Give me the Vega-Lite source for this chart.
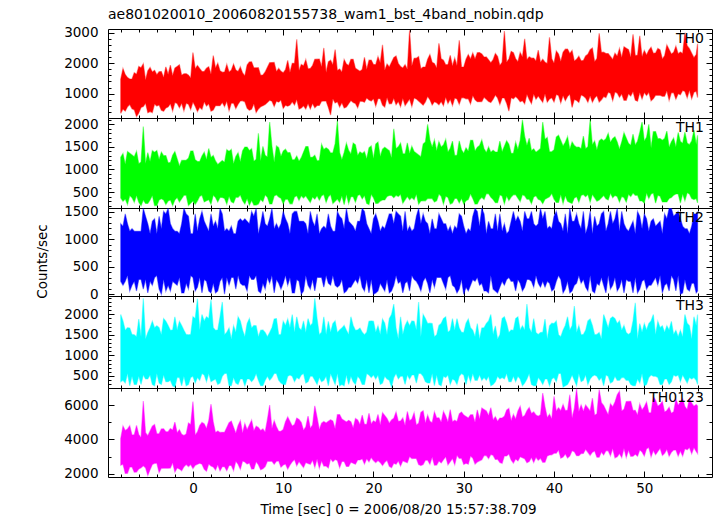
{
"$schema": "https://vega.github.io/schema/vega-lite/v6.json",
"autosize": "pad",
"padding": {"left": 34, "top": 7, "right": 6, "bottom": 0},
"background": "white",
"bounds": "flush",
"config": {
  "view": {"stroke": "#000", "strokeWidth": 1},
  "concat": {"spacing": 0},
  "area": {"strokeWidth": 1.2, "strokeOpacity": 0.45},
  "axis": {"domain": false, "grid": false, "tickColor": "#000", "tickWidth": 1, "labelFont": "DejaVu Sans", "labelFontSize": 13.5, "labelColor": "#000", "titleFont": "DejaVu Sans", "titleFontSize": 13.5, "titleFontWeight": "normal", "titleColor": "#000", "labelOverlap": false, "labelFlush": false, "format": "d"}
},
"datasets": {"lc": [
{"t":-8,"lo0":355,"hi0":1470,"lo1":370,"hi1":1270,"lo2":235,"hi2":1280,"lo3":362,"hi3":1995,"lo4":2490,"hi4":4050},
{"t":-7.5,"lo0":428,"hi0":1626,"lo1":346,"hi1":1114,"lo2":235,"hi2":1460,"lo3":329,"hi3":1610,"lo4":2017,"hi4":4512},
{"t":-7,"lo0":642,"hi0":1482,"lo1":421,"hi1":1358,"lo2":60,"hi2":1145,"lo3":263,"hi3":1665,"lo4":2384,"hi4":4794},
{"t":-6.5,"lo0":470,"hi0":1688,"lo1":271,"hi1":1281,"lo2":235,"hi2":1145,"lo3":296,"hi3":1500,"lo4":2091,"hi4":4266},
{"t":-6,"lo0":369,"hi0":1894,"lo1":272,"hi1":1125,"lo2":270,"hi2":1145,"lo3":494,"hi3":1885,"lo4":2278,"hi4":4278},
{"t":-5.5,"lo0":582,"hi0":1980,"lo1":322,"hi1":1950,"lo2":95,"hi2":1560,"lo3":527,"hi3":2390,"lo4":2465,"hi4":6230},
{"t":-5,"lo0":376,"hi0":1756,"lo1":248,"hi1":1373,"lo2":25,"hi2":1280,"lo3":428,"hi3":1555,"lo4":1900,"hi4":4212},
{"t":-4.5,"lo0":380,"hi0":1712,"lo1":424,"hi1":1417,"lo2":165,"hi2":1325,"lo3":296,"hi3":1830,"lo4":2539,"hi4":4764},
{"t":-4,"lo0":593,"hi0":1618,"lo1":199,"hi1":1420,"lo2":340,"hi2":1100,"lo3":560,"hi3":1720,"lo4":2606,"hi4":4326},
{"t":-3.5,"lo0":456,"hi0":1724,"lo1":350,"hi1":1384,"lo2":0,"hi2":1190,"lo3":296,"hi3":1500,"lo4":2313,"hi4":4608},
{"t":-3,"lo0":530,"hi0":1880,"lo1":225,"hi1":1308,"lo2":60,"hi2":1460,"lo3":362,"hi3":1830,"lo4":2320,"hi4":4440},
{"t":-2.5,"lo0":674,"hi0":1936,"lo1":326,"hi1":1152,"lo2":60,"hi2":1280,"lo3":395,"hi3":1610,"lo4":2327,"hi4":4632},
{"t":-2,"lo0":712,"hi0":1842,"lo1":326,"hi1":1396,"lo2":200,"hi2":1145,"lo3":230,"hi3":1940,"lo4":2094,"hi4":5004},
{"t":-1.5,"lo0":541,"hi0":1948,"lo1":277,"hi1":1079,"lo2":305,"hi2":1100,"lo3":461,"hi3":1830,"lo4":2281,"hi4":4566},
{"t":-1,"lo0":439,"hi0":1654,"lo1":427,"hi1":1203,"lo2":25,"hi2":1560,"lo3":494,"hi3":1610,"lo4":2408,"hi4":4218},
{"t":-0.5,"lo0":652,"hi0":1610,"lo1":202,"hi1":1247,"lo2":95,"hi2":1415,"lo3":296,"hi3":1500,"lo4":2415,"hi4":4950},
{"t":0,"lo0":726,"hi0":2350,"lo1":303,"hi1":1411,"lo2":305,"hi2":1100,"lo3":494,"hi3":1940,"lo4":2302,"hi4":6200},
{"t":0.5,"lo0":415,"hi0":1922,"lo1":304,"hi1":1175,"lo2":130,"hi2":1145,"lo3":461,"hi3":2380,"lo4":2549,"hi4":4434},
{"t":1,"lo0":488,"hi0":1728,"lo1":429,"hi1":1298,"lo2":25,"hi2":1505,"lo3":560,"hi3":1995,"lo4":2556,"hi4":4986},
{"t":1.5,"lo0":597,"hi0":1834,"lo1":305,"hi1":1222,"lo2":235,"hi2":1235,"lo3":362,"hi3":1940,"lo4":2143,"hi4":4638},
{"t":2,"lo0":425,"hi0":1640,"lo1":230,"hi1":1266,"lo2":25,"hi2":1460,"lo3":362,"hi3":2350,"lo4":2450,"hi4":6050},
{"t":2.5,"lo0":604,"hi0":1846,"lo1":381,"hi1":1190,"lo2":25,"hi2":1325,"lo3":428,"hi3":1610,"lo4":2217,"hi4":4392},
{"t":3,"lo0":607,"hi0":1752,"lo1":381,"hi1":1154,"lo2":235,"hi2":1560,"lo3":329,"hi3":1940,"lo4":2164,"hi4":4404},
{"t":3.5,"lo0":576,"hi0":1708,"lo1":357,"hi1":1157,"lo2":0,"hi2":1145,"lo3":560,"hi3":1500,"lo4":2411,"hi4":4416},
{"t":4,"lo0":439,"hi0":1714,"lo1":407,"hi1":1401,"lo2":165,"hi2":1145,"lo3":263,"hi3":1665,"lo4":2478,"hi4":4968},
{"t":4.5,"lo0":688,"hi0":1970,"lo1":258,"hi1":1125,"lo2":305,"hi2":1100,"lo3":461,"hi3":1720,"lo4":2185,"hi4":4710},
{"t":5,"lo0":656,"hi0":1726,"lo1":383,"hi1":1369,"lo2":340,"hi2":1325,"lo3":296,"hi3":1940,"lo4":2552,"hi4":4812},
{"t":5.5,"lo0":765,"hi0":1682,"lo1":309,"hi1":1413,"lo2":165,"hi2":1325,"lo3":428,"hi3":1610,"lo4":2739,"hi4":4374},
{"t":6,"lo0":523,"hi0":1938,"lo1":359,"hi1":1496,"lo2":60,"hi2":1325,"lo3":428,"hi3":1775,"lo4":2566,"hi4":4566},
{"t":6.5,"lo0":492,"hi0":2044,"lo1":310,"hi1":1460,"lo2":270,"hi2":1505,"lo3":362,"hi3":1665,"lo4":2273,"hi4":5118},
{"t":7,"lo0":380,"hi0":1850,"lo1":210,"hi1":1224,"lo2":340,"hi2":1560,"lo3":560,"hi3":1720,"lo4":2700,"hi4":4770},
{"t":7.5,"lo0":569,"hi0":1606,"lo1":336,"hi1":1188,"lo2":25,"hi2":1280,"lo3":263,"hi3":1610,"lo4":2227,"hi4":4512},
{"t":8,"lo0":642,"hi0":1712,"lo1":436,"hi1":1312,"lo2":95,"hi2":1280,"lo3":395,"hi3":1555,"lo4":2414,"hi4":4434},
{"t":8.5,"lo0":786,"hi0":2018,"lo1":237,"hi1":2050,"lo2":200,"hi2":1370,"lo3":395,"hi3":1555,"lo4":2721,"hi4":6000},
{"t":9,"lo0":579,"hi0":2024,"lo1":412,"hi1":1159,"lo2":25,"hi2":1190,"lo3":560,"hi3":1885,"lo4":2548,"hi4":5088},
{"t":9.5,"lo0":723,"hi0":1830,"lo1":388,"hi1":1483,"lo2":200,"hi2":1190,"lo3":395,"hi3":1500,"lo4":2735,"hi4":4470},
{"t":10,"lo0":516,"hi0":1686,"lo1":238,"hi1":1407,"lo2":200,"hi2":1505,"lo3":296,"hi3":1830,"lo4":2502,"hi4":4572},
{"t":10.5,"lo0":590,"hi0":2092,"lo1":339,"hi1":1371,"lo2":165,"hi2":1280,"lo3":494,"hi3":1885,"lo4":2269,"hi4":5304},
{"t":11,"lo0":733,"hi0":1998,"lo1":239,"hi1":1214,"lo2":25,"hi2":1460,"lo3":494,"hi3":1995,"lo4":2696,"hi4":4776},
{"t":11.5,"lo0":807,"hi0":2780,"lo1":415,"hi1":1298,"lo2":270,"hi2":1505,"lo3":461,"hi3":1940,"lo4":2463,"hi4":5238},
{"t":12,"lo0":530,"hi0":1960,"lo1":415,"hi1":1262,"lo2":0,"hi2":1325,"lo3":527,"hi3":1610,"lo4":2530,"hi4":4980},
{"t":12.5,"lo0":499,"hi0":2116,"lo1":416,"hi1":1506,"lo2":340,"hi2":1280,"lo3":329,"hi3":1555,"lo4":2657,"hi4":4722},
{"t":13,"lo0":502,"hi0":1822,"lo1":266,"hi1":1270,"lo2":95,"hi2":1505,"lo3":494,"hi3":1720,"lo4":2544,"hi4":4644},
{"t":13.5,"lo0":541,"hi0":2128,"lo1":342,"hi1":1313,"lo2":60,"hi2":1235,"lo3":395,"hi3":2390,"lo4":2371,"hi4":5950},
{"t":14,"lo0":614,"hi0":2134,"lo1":317,"hi1":1197,"lo2":305,"hi2":1100,"lo3":461,"hi3":1500,"lo4":2318,"hi4":4578},
{"t":14.5,"lo0":758,"hi0":2500,"lo1":443,"hi1":1441,"lo2":130,"hi2":1235,"lo3":395,"hi3":1940,"lo4":2445,"hi4":5040},
{"t":15,"lo0":551,"hi0":2046,"lo1":393,"hi1":1445,"lo2":200,"hi2":1460,"lo3":263,"hi3":1830,"lo4":2332,"hi4":5052},
{"t":15.5,"lo0":835,"hi0":1952,"lo1":244,"hi1":1369,"lo2":340,"hi2":1145,"lo3":428,"hi3":1775,"lo4":2699,"hi4":5064},
{"t":16,"lo0":733,"hi0":1758,"lo1":344,"hi1":2080,"lo2":130,"hi2":1505,"lo3":560,"hi3":1555,"lo4":2766,"hi4":5436},
{"t":16.5,"lo0":701,"hi0":1714,"lo1":420,"hi1":1216,"lo2":270,"hi2":1370,"lo3":296,"hi3":1665,"lo4":2713,"hi4":5178},
{"t":17,"lo0":565,"hi0":1970,"lo1":445,"hi1":1580,"lo2":60,"hi2":1560,"lo3":527,"hi3":1610,"lo4":2420,"hi4":5010},
{"t":17.5,"lo0":779,"hi0":2126,"lo1":396,"hi1":1344,"lo2":130,"hi2":1280,"lo3":494,"hi3":1940,"lo4":2667,"hi4":5022},
{"t":18,"lo0":677,"hi0":1832,"lo1":271,"hi1":1548,"lo2":270,"hi2":1145,"lo3":296,"hi3":1610,"lo4":2554,"hi4":5214},
{"t":18.5,"lo0":751,"hi0":1738,"lo1":447,"hi1":1391,"lo2":340,"hi2":1325,"lo3":428,"hi3":1665,"lo4":2801,"hi4":4866},
{"t":19,"lo0":719,"hi0":2194,"lo1":422,"hi1":1395,"lo2":60,"hi2":1505,"lo3":296,"hi3":1500,"lo4":2568,"hi4":4878},
{"t":19.5,"lo0":793,"hi0":2100,"lo1":223,"hi1":1479,"lo2":25,"hi2":1190,"lo3":527,"hi3":1830,"lo4":2695,"hi4":5520},
{"t":20,"lo0":831,"hi0":1956,"lo1":373,"hi1":1243,"lo2":0,"hi2":1370,"lo3":527,"hi3":1830,"lo4":2762,"hi4":5082},
{"t":20.5,"lo0":835,"hi0":2212,"lo1":249,"hi1":1607,"lo2":60,"hi2":1325,"lo3":527,"hi3":1720,"lo4":2769,"hi4":5454},
{"t":21,"lo0":628,"hi0":2600,"lo1":324,"hi1":1450,"lo2":130,"hi2":1235,"lo3":329,"hi3":1885,"lo4":2476,"hi4":5556},
{"t":21.5,"lo0":877,"hi0":1974,"lo1":400,"hi1":1454,"lo2":270,"hi2":1325,"lo3":428,"hi3":1500,"lo4":2783,"hi4":5208},
{"t":22,"lo0":670,"hi0":2030,"lo1":425,"hi1":1258,"lo2":60,"hi2":1460,"lo3":230,"hi3":1995,"lo4":2350,"hi4":5130},
{"t":22.5,"lo0":638,"hi0":2236,"lo1":426,"hi1":1462,"lo2":340,"hi2":1505,"lo3":560,"hi3":1665,"lo4":2557,"hi4":5592},
{"t":23,"lo0":572,"hi0":1892,"lo1":451,"hi1":1586,"lo2":235,"hi2":1415,"lo3":494,"hi3":1940,"lo4":2444,"hi4":5064},
{"t":23.5,"lo0":611,"hi0":1948,"lo1":327,"hi1":1349,"lo2":200,"hi2":1505,"lo3":296,"hi3":1720,"lo4":2691,"hi4":4806},
{"t":24,"lo0":824,"hi0":3080,"lo1":327,"hi1":1353,"lo2":60,"hi2":1235,"lo3":428,"hi3":1720,"lo4":2998,"hi4":5088},
{"t":24.5,"lo0":862,"hi0":2160,"lo1":328,"hi1":1397,"lo2":270,"hi2":1190,"lo3":527,"hi3":1830,"lo4":2885,"hi4":5550},
{"t":25,"lo0":761,"hi0":2216,"lo1":228,"hi1":1321,"lo2":165,"hi2":1560,"lo3":560,"hi3":2300,"lo4":2532,"hi4":4932},
{"t":25.5,"lo0":625,"hi0":1872,"lo1":304,"hi1":1565,"lo2":235,"hi2":1460,"lo3":494,"hi3":1995,"lo4":2539,"hi4":5664},
{"t":26,"lo0":908,"hi0":2128,"lo1":354,"hi1":2000,"lo2":200,"hi2":1280,"lo3":329,"hi3":1775,"lo4":2786,"hi4":5406},
{"t":26.5,"lo0":632,"hi0":2034,"lo1":355,"hi1":1492,"lo2":270,"hi2":1370,"lo3":560,"hi3":1775,"lo4":2973,"hi4":4968},
{"t":27,"lo0":705,"hi0":1840,"lo1":305,"hi1":1416,"lo2":305,"hi2":1190,"lo3":527,"hi3":1500,"lo4":2500,"hi4":5250},
{"t":27.5,"lo0":744,"hi0":2146,"lo1":406,"hi1":1500,"lo2":305,"hi2":1370,"lo3":263,"hi3":1775,"lo4":2627,"hi4":4992},
{"t":28,"lo0":887,"hi0":1952,"lo1":406,"hi1":1664,"lo2":95,"hi2":1280,"lo3":461,"hi3":1940,"lo4":2994,"hi4":5364},
{"t":28.5,"lo0":821,"hi0":2258,"lo1":232,"hi1":1467,"lo2":340,"hi2":1235,"lo3":296,"hi3":1610,"lo4":2701,"hi4":5736},
{"t":29,"lo0":859,"hi0":2164,"lo1":357,"hi1":1311,"lo2":130,"hi2":1235,"lo3":395,"hi3":1610,"lo4":2528,"hi4":5118},
{"t":29.5,"lo0":653,"hi0":2750,"lo1":258,"hi1":1635,"lo2":95,"hi2":1460,"lo3":494,"hi3":1665,"lo4":2895,"hi4":5490},
{"t":30,"lo0":866,"hi0":1876,"lo1":233,"hi1":1359,"lo2":0,"hi2":1235,"lo3":527,"hi3":1555,"lo4":2542,"hi4":5412},
{"t":30.5,"lo0":835,"hi0":2282,"lo1":334,"hi1":1403,"lo2":60,"hi2":1190,"lo3":527,"hi3":1885,"lo4":2549,"hi4":5244},
{"t":31,"lo0":943,"hi0":2338,"lo1":359,"hi1":1646,"lo2":270,"hi2":1415,"lo3":560,"hi3":1610,"lo4":2916,"hi4":5436},
{"t":31.5,"lo0":737,"hi0":2344,"lo1":235,"hi1":1490,"lo2":305,"hi2":1505,"lo3":395,"hi3":1775,"lo4":2683,"hi4":5718},
{"t":32,"lo0":740,"hi0":2300,"lo1":385,"hi1":1654,"lo2":200,"hi2":1560,"lo3":395,"hi3":1665,"lo4":2810,"hi4":5820},
{"t":32.5,"lo0":814,"hi0":2206,"lo1":461,"hi1":1378,"lo2":60,"hi2":1100,"lo3":395,"hi3":1775,"lo4":3057,"hi4":5652},
{"t":33,"lo0":712,"hi0":2012,"lo1":386,"hi1":1382,"lo2":340,"hi2":1190,"lo3":263,"hi3":1995,"lo4":3124,"hi4":5844},
{"t":33.5,"lo0":961,"hi0":2318,"lo1":262,"hi1":1385,"lo2":60,"hi2":1460,"lo3":362,"hi3":1720,"lo4":2831,"hi4":5316},
{"t":34,"lo0":649,"hi0":1924,"lo1":437,"hi1":1629,"lo2":130,"hi2":1460,"lo3":428,"hi3":1500,"lo4":2658,"hi4":5238},
{"t":34.5,"lo0":862,"hi0":3050,"lo1":237,"hi1":1513,"lo2":165,"hi2":1280,"lo3":428,"hi3":1940,"lo4":3025,"hi4":5340},
{"t":35,"lo0":430,"hi0":2136,"lo1":313,"hi1":1557,"lo2":305,"hi2":1145,"lo3":362,"hi3":1555,"lo4":3152,"hi4":5802},
{"t":35.5,"lo0":835,"hi0":2342,"lo1":439,"hi1":1361,"lo2":235,"hi2":1505,"lo3":494,"hi3":1610,"lo4":2619,"hi4":5454},
{"t":36,"lo0":838,"hi0":2048,"lo1":364,"hi1":1444,"lo2":270,"hi2":1415,"lo3":494,"hi3":1940,"lo4":2746,"hi4":5646},
{"t":36.5,"lo0":772,"hi0":2204,"lo1":440,"hi1":2100,"lo2":60,"hi2":1145,"lo3":263,"hi3":1720,"lo4":2933,"hi4":5298},
{"t":37,"lo0":985,"hi0":2110,"lo1":340,"hi1":1532,"lo2":270,"hi2":1370,"lo3":428,"hi3":2250,"lo4":2640,"hi4":5670},
{"t":37.5,"lo0":674,"hi0":2166,"lo1":241,"hi1":1416,"lo2":235,"hi2":1505,"lo3":296,"hi3":1555,"lo4":2947,"hi4":5502},
{"t":38,"lo0":817,"hi0":2072,"lo1":416,"hi1":1380,"lo2":340,"hi2":1235,"lo3":263,"hi3":1555,"lo4":2954,"hi4":5424},
{"t":38.5,"lo0":821,"hi0":2028,"lo1":317,"hi1":1463,"lo2":130,"hi2":1560,"lo3":395,"hi3":1555,"lo4":2901,"hi4":5436},
{"t":39,"lo0":999,"hi0":2034,"lo1":342,"hi1":1667,"lo2":130,"hi2":1505,"lo3":428,"hi3":1885,"lo4":2668,"hi4":5898},
{"t":39.5,"lo0":828,"hi0":2850,"lo1":393,"hi1":1391,"lo2":200,"hi2":1235,"lo3":263,"hi3":1720,"lo4":3095,"hi4":5460},
{"t":40,"lo0":726,"hi0":1996,"lo1":343,"hi1":1435,"lo2":95,"hi2":1415,"lo3":461,"hi3":1775,"lo4":3192,"hi4":6500},
{"t":40.5,"lo0":940,"hi0":2302,"lo1":269,"hi1":1759,"lo2":340,"hi2":1325,"lo3":560,"hi3":1500,"lo4":3379,"hi4":5844},
{"t":41,"lo0":943,"hi0":2358,"lo1":244,"hi1":1522,"lo2":25,"hi2":1145,"lo3":230,"hi3":1610,"lo4":2966,"hi4":6036},
{"t":41.5,"lo0":912,"hi0":2464,"lo1":295,"hi1":1726,"lo2":235,"hi2":1100,"lo3":296,"hi3":1940,"lo4":2913,"hi4":5688},
{"t":42,"lo0":550,"hi0":2420,"lo1":245,"hi1":1610,"lo2":60,"hi2":1325,"lo3":527,"hi3":1720,"lo4":3340,"hi4":5250},
{"t":42.5,"lo0":779,"hi0":2126,"lo1":396,"hi1":1494,"lo2":200,"hi2":1460,"lo3":263,"hi3":1555,"lo4":3047,"hi4":6950},
{"t":43,"lo0":957,"hi0":2082,"lo1":421,"hi1":1458,"lo2":200,"hi2":1190,"lo3":362,"hi3":1500,"lo4":3174,"hi4":5994},
{"t":43.5,"lo0":856,"hi0":2238,"lo1":397,"hi1":1461,"lo2":130,"hi2":1100,"lo3":527,"hi3":1610,"lo4":3421,"hi4":6006},
{"t":44,"lo0":929,"hi0":2444,"lo1":272,"hi1":2100,"lo2":340,"hi2":1505,"lo3":428,"hi3":1885,"lo4":3068,"hi4":5658},
{"t":44.5,"lo0":862,"hi0":2050,"lo1":372,"hi1":1629,"lo2":25,"hi2":1415,"lo3":527,"hi3":1500,"lo4":3315,"hi4":5400},
{"t":45,"lo0":726,"hi0":2980,"lo1":323,"hi1":1633,"lo2":165,"hi2":1280,"lo3":395,"hi3":1555,"lo4":2962,"hi4":6900},
{"t":45.5,"lo0":905,"hi0":2362,"lo1":424,"hi1":1637,"lo2":165,"hi2":1505,"lo3":263,"hi3":1995,"lo4":3089,"hi4":5964},
{"t":46,"lo0":1048,"hi0":2318,"lo1":324,"hi1":1800,"lo2":340,"hi2":1280,"lo3":494,"hi3":1665,"lo4":3336,"hi4":5436},
{"t":46.5,"lo0":772,"hi0":2124,"lo1":375,"hi1":1684,"lo2":165,"hi2":1280,"lo3":362,"hi3":1940,"lo4":3463,"hi4":5898},
{"t":47,"lo0":1020,"hi0":2230,"lo1":400,"hi1":1608,"lo2":60,"hi2":1560,"lo3":395,"hi3":1775,"lo4":2990,"hi4":6600},
{"t":47.5,"lo0":989,"hi0":2186,"lo1":401,"hi1":1612,"lo2":270,"hi2":1505,"lo3":461,"hi3":1610,"lo4":2937,"hi4":5652},
{"t":48,"lo0":782,"hi0":2492,"lo1":276,"hi1":1696,"lo2":270,"hi2":1190,"lo3":395,"hi3":1555,"lo4":2944,"hi4":6204},
{"t":48.5,"lo0":926,"hi0":2198,"lo1":402,"hi1":1539,"lo2":235,"hi2":1235,"lo3":296,"hi3":1555,"lo4":3011,"hi4":6216},
{"t":49,"lo0":789,"hi0":2254,"lo1":427,"hi1":1543,"lo2":305,"hi2":1100,"lo3":263,"hi3":2280,"lo4":3138,"hi4":5688},
{"t":49.5,"lo0":1038,"hi0":2900,"lo1":303,"hi1":1827,"lo2":95,"hi2":1415,"lo3":329,"hi3":1775,"lo4":3385,"hi4":6060},
{"t":50,"lo0":1041,"hi0":2416,"lo1":253,"hi1":1631,"lo2":270,"hi2":1460,"lo3":263,"hi3":1775,"lo4":3032,"hi4":5892},
{"t":50.5,"lo0":1045,"hi0":2422,"lo1":354,"hi1":2000,"lo2":165,"hi2":1145,"lo3":461,"hi3":1775,"lo4":3519,"hi4":5544},
{"t":51,"lo0":838,"hi0":2328,"lo1":479,"hi1":1838,"lo2":235,"hi2":1370,"lo3":494,"hi3":1995,"lo4":3346,"hi4":6500},
{"t":51.5,"lo0":947,"hi0":2484,"lo1":430,"hi1":1682,"lo2":165,"hi2":1280,"lo3":461,"hi3":1830,"lo4":3293,"hi4":5928},
{"t":52,"lo0":915,"hi0":2140,"lo1":280,"hi1":1646,"lo2":25,"hi2":1100,"lo3":296,"hi3":1720,"lo4":3060,"hi4":6210},
{"t":52.5,"lo0":1094,"hi0":2596,"lo1":281,"hi1":1850,"lo2":200,"hi2":1370,"lo3":428,"hi3":1720,"lo4":3427,"hi4":5682},
{"t":53,"lo0":1027,"hi0":2302,"lo1":381,"hi1":1614,"lo2":340,"hi2":1560,"lo3":362,"hi3":1830,"lo4":3254,"hi4":5514},
{"t":53.5,"lo0":821,"hi0":2558,"lo1":457,"hi1":1497,"lo2":60,"hi2":1460,"lo3":494,"hi3":1610,"lo4":3381,"hi4":6336},
{"t":54,"lo0":964,"hi0":2364,"lo1":257,"hi1":1621,"lo2":0,"hi2":1370,"lo3":362,"hi3":1610,"lo4":3328,"hi4":6168},
{"t":54.5,"lo0":1073,"hi0":3000,"lo1":308,"hi1":1825,"lo2":270,"hi2":1190,"lo3":428,"hi3":1995,"lo4":3455,"hi4":5910},
{"t":55,"lo0":1111,"hi0":2476,"lo1":458,"hi1":1549,"lo2":60,"hi2":1100,"lo3":461,"hi3":1720,"lo4":3522,"hi4":6372},
{"t":55.5,"lo0":1045,"hi0":2182,"lo1":334,"hi1":1873,"lo2":200,"hi2":1460,"lo3":461,"hi3":1940,"lo4":3529,"hi4":5934},
{"t":55.9,"lo0":873,"hi0":2638,"lo1":259,"hi1":1756,"lo2":60,"hi2":1505,"lo3":296,"hi3":1995,"lo4":3176,"hi4":5946},
{"t":-7.75,"lo0":497,"hi0":1823,"lo1":295,"hi1":1352,"lo2":165,"hi2":1235,"lo3":395,"hi3":1840,"lo4":2554,"hi4":4776},
{"t":-7.25,"lo0":571,"hi0":1529,"lo1":221,"hi1":1396,"lo2":340,"hi2":1280,"lo3":560,"hi3":1675,"lo4":2021,"hi4":4608},
{"t":-6.75,"lo0":504,"hi0":1485,"lo1":371,"hi1":1320,"lo2":165,"hi2":1190,"lo3":494,"hi3":1510,"lo4":2388,"hi4":4260},
{"t":-6.25,"lo0":250,"hi0":1641,"lo1":422,"hi1":1403,"lo2":60,"hi2":1145,"lo3":296,"hi3":1455,"lo4":2095,"hi4":4812},
{"t":-5.75,"lo0":546,"hi0":1847,"lo1":197,"hi1":1167,"lo2":270,"hi2":1145,"lo3":296,"hi3":1455,"lo4":2342,"hi4":4104},
{"t":-5.25,"lo0":690,"hi0":1453,"lo1":248,"hi1":1131,"lo2":270,"hi2":1415,"lo3":428,"hi3":1400,"lo4":2349,"hi4":4386},
{"t":-4.75,"lo0":413,"hi0":1859,"lo1":323,"hi1":1175,"lo2":235,"hi2":1100,"lo3":527,"hi3":1675,"lo4":2236,"hi4":4488},
{"t":-4.25,"lo0":662,"hi0":1765,"lo1":199,"hi1":1379,"lo2":305,"hi2":1370,"lo3":263,"hi3":1675,"lo4":2603,"hi4":4860},
{"t":-3.75,"lo0":630,"hi0":1721,"lo1":324,"hi1":1222,"lo2":95,"hi2":1415,"lo3":329,"hi3":1675,"lo4":2070,"hi4":4332},
{"t":-3.25,"lo0":424,"hi0":1527,"lo1":325,"hi1":1306,"lo2":270,"hi2":1505,"lo3":527,"hi3":1895,"lo4":2317,"hi4":4614},
{"t":-2.75,"lo0":567,"hi0":1633,"lo1":300,"hi1":1150,"lo2":165,"hi2":1560,"lo3":362,"hi3":1730,"lo4":2324,"hi4":4446},
{"t":-2.25,"lo0":431,"hi0":1589,"lo1":201,"hi1":1314,"lo2":235,"hi2":1190,"lo3":263,"hi3":1620,"lo4":2631,"hi4":4548},
{"t":-1.75,"lo0":679,"hi0":1895,"lo1":376,"hi1":1238,"lo2":165,"hi2":1145,"lo3":461,"hi3":1620,"lo4":2338,"hi4":4380},
{"t":-1.25,"lo0":683,"hi0":1601,"lo1":352,"hi1":1201,"lo2":25,"hi2":1280,"lo3":263,"hi3":1730,"lo4":2165,"hi4":4302},
{"t":-0.75,"lo0":686,"hi0":1657,"lo1":427,"hi1":1205,"lo2":200,"hi2":1460,"lo3":263,"hi3":1510,"lo4":2532,"hi4":4314},
{"t":-0.25,"lo0":480,"hi0":1513,"lo1":253,"hi1":1409,"lo2":340,"hi2":1100,"lo3":461,"hi3":1510,"lo4":2539,"hi4":4866},
{"t":0.25,"lo0":588,"hi0":1819,"lo1":228,"hi1":1213,"lo2":60,"hi2":1460,"lo3":329,"hi3":1895,"lo4":2486,"hi4":4248},
{"t":0.75,"lo0":557,"hi0":1825,"lo1":404,"hi1":1177,"lo2":305,"hi2":1370,"lo3":395,"hi3":1620,"lo4":2613,"hi4":4800},
{"t":1.25,"lo0":735,"hi0":1731,"lo1":279,"hi1":1380,"lo2":270,"hi2":1325,"lo3":527,"hi3":1840,"lo4":2260,"hi4":4902},
{"t":1.75,"lo0":669,"hi0":1887,"lo1":330,"hi1":1464,"lo2":60,"hi2":1145,"lo3":560,"hi3":1895,"lo4":2567,"hi4":5094},
{"t":2.25,"lo0":462,"hi0":2250,"lo1":430,"hi1":1308,"lo2":200,"hi2":1235,"lo3":395,"hi3":1675,"lo4":2394,"hi4":5016},
{"t":2.75,"lo0":606,"hi0":1999,"lo1":281,"hi1":1112,"lo2":60,"hi2":1190,"lo3":296,"hi3":1620,"lo4":2521,"hi4":4488},
{"t":3.25,"lo0":714,"hi0":1705,"lo1":381,"hi1":1196,"lo2":305,"hi2":1460,"lo3":494,"hi3":2300,"lo4":2408,"hi4":4410},
{"t":3.75,"lo0":753,"hi0":1961,"lo1":232,"hi1":1439,"lo2":305,"hi2":1190,"lo3":560,"hi3":1565,"lo4":2175,"hi4":4692},
{"t":4.25,"lo0":686,"hi0":1767,"lo1":282,"hi1":1443,"lo2":305,"hi2":1235,"lo3":263,"hi3":1400,"lo4":2482,"hi4":5064},
{"t":4.75,"lo0":515,"hi0":1773,"lo1":383,"hi1":1287,"lo2":95,"hi2":1100,"lo3":329,"hi3":1565,"lo4":2729,"hi4":4356},
{"t":5.25,"lo0":763,"hi0":1879,"lo1":433,"hi1":1171,"lo2":200,"hi2":1370,"lo3":428,"hi3":1840,"lo4":2256,"hi4":5088},
{"t":5.75,"lo0":732,"hi0":1585,"lo1":234,"hi1":1495,"lo2":165,"hi2":1370,"lo3":263,"hi3":1455,"lo4":2683,"hi4":4920},
{"t":6.25,"lo0":455,"hi0":2041,"lo1":209,"hi1":1418,"lo2":340,"hi2":1280,"lo3":428,"hi3":1895,"lo4":2630,"hi4":4842},
{"t":6.75,"lo0":669,"hi0":1847,"lo1":210,"hi1":1182,"lo2":270,"hi2":1415,"lo3":428,"hi3":1730,"lo4":2277,"hi4":4494},
{"t":7.25,"lo0":497,"hi0":1853,"lo1":235,"hi1":1800,"lo2":60,"hi2":1100,"lo3":395,"hi3":1455,"lo4":2524,"hi4":4686},
{"t":7.75,"lo0":606,"hi0":1609,"lo1":286,"hi1":1510,"lo2":200,"hi2":1505,"lo3":263,"hi3":1620,"lo4":2291,"hi4":4608},
{"t":8.25,"lo0":714,"hi0":1865,"lo1":386,"hi1":1274,"lo2":305,"hi2":1235,"lo3":494,"hi3":1455,"lo4":2718,"hi4":5160},
{"t":8.75,"lo0":753,"hi0":2021,"lo1":237,"hi1":1517,"lo2":340,"hi2":1560,"lo3":461,"hi3":1675,"lo4":2725,"hi4":4632},
{"t":9.25,"lo0":756,"hi0":1727,"lo1":437,"hi1":1521,"lo2":270,"hi2":1280,"lo3":560,"hi3":1895,"lo4":2732,"hi4":4734},
{"t":9.75,"lo0":795,"hi0":1733,"lo1":363,"hi1":1285,"lo2":95,"hi2":1280,"lo3":329,"hi3":1510,"lo4":2379,"hi4":4476},
{"t":10.25,"lo0":623,"hi0":1789,"lo1":338,"hi1":1449,"lo2":340,"hi2":1370,"lo3":296,"hi3":1730,"lo4":2566,"hi4":5028},
{"t":10.75,"lo0":627,"hi0":1695,"lo1":239,"hi1":1373,"lo2":305,"hi2":1100,"lo3":527,"hi3":1675,"lo4":2513,"hi4":5040},
{"t":11.25,"lo0":630,"hi0":2001,"lo1":389,"hi1":1216,"lo2":25,"hi2":1505,"lo3":362,"hi3":1565,"lo4":2820,"hi4":4872},
{"t":11.75,"lo0":494,"hi0":1757,"lo1":315,"hi1":1180,"lo2":235,"hi2":1325,"lo3":428,"hi3":1675,"lo4":2707,"hi4":5154},
{"t":12.25,"lo0":602,"hi0":1913,"lo1":365,"hi1":1384,"lo2":60,"hi2":1325,"lo3":560,"hi3":1840,"lo4":2354,"hi4":4536},
{"t":12.75,"lo0":676,"hi0":1819,"lo1":341,"hi1":1508,"lo2":165,"hi2":1100,"lo3":362,"hi3":1895,"lo4":2601,"hi4":5358},
{"t":13.25,"lo0":679,"hi0":1925,"lo1":391,"hi1":1272,"lo2":270,"hi2":1325,"lo3":494,"hi3":1785,"lo4":2788,"hi4":4830},
{"t":13.75,"lo0":613,"hi0":2131,"lo1":417,"hi1":1195,"lo2":305,"hi2":1460,"lo3":296,"hi3":1895,"lo4":2855,"hi4":5292},
{"t":14.25,"lo0":756,"hi0":1887,"lo1":417,"hi1":1559,"lo2":305,"hi2":1190,"lo3":362,"hi3":1565,"lo4":2742,"hi4":4944},
{"t":14.75,"lo0":760,"hi0":1693,"lo1":268,"hi1":1483,"lo2":340,"hi2":1190,"lo3":494,"hi3":1510,"lo4":2449,"hi4":4956},
{"t":15.25,"lo0":300,"hi0":2099,"lo1":443,"hi1":1367,"lo2":165,"hi2":1235,"lo3":560,"hi3":1565,"lo4":2876,"hi4":5148},
{"t":15.75,"lo0":697,"hi0":2450,"lo1":294,"hi1":1571,"lo2":165,"hi2":1145,"lo3":296,"hi3":1840,"lo4":2823,"hi4":4620},
{"t":16.25,"lo0":560,"hi0":1811,"lo1":269,"hi1":1374,"lo2":165,"hi2":1415,"lo3":263,"hi3":1620,"lo4":2350,"hi4":5442},
{"t":16.75,"lo0":529,"hi0":2117,"lo1":220,"hi1":1378,"lo2":25,"hi2":1190,"lo3":263,"hi3":1730,"lo4":2717,"hi4":5094},
{"t":17.25,"lo0":672,"hi0":1923,"lo1":245,"hi1":1422,"lo2":130,"hi2":1325,"lo3":296,"hi3":1510,"lo4":2424,"hi4":5106},
{"t":17.75,"lo0":711,"hi0":2129,"lo1":396,"hi1":1586,"lo2":200,"hi2":1235,"lo3":362,"hi3":1730,"lo4":2611,"hi4":4668},
{"t":18.25,"lo0":539,"hi0":1785,"lo1":421,"hi1":1310,"lo2":200,"hi2":1325,"lo3":494,"hi3":1620,"lo4":2798,"hi4":5130},
{"t":18.75,"lo0":753,"hi0":1791,"lo1":347,"hi1":1353,"lo2":130,"hi2":1560,"lo3":296,"hi3":1565,"lo4":2865,"hi4":5412},
{"t":19.25,"lo0":861,"hi0":1797,"lo1":247,"hi1":1237,"lo2":270,"hi2":1280,"lo3":560,"hi3":1565,"lo4":2872,"hi4":4884},
{"t":19.75,"lo0":760,"hi0":2103,"lo1":448,"hi1":1521,"lo2":270,"hi2":1100,"lo3":461,"hi3":1840,"lo4":2939,"hi4":4896},
{"t":20.25,"lo0":588,"hi0":1959,"lo1":248,"hi1":1565,"lo2":25,"hi2":1460,"lo3":428,"hi3":1565,"lo4":2646,"hi4":4998},
{"t":20.75,"lo0":837,"hi0":2015,"lo1":299,"hi1":1289,"lo2":200,"hi2":1145,"lo3":296,"hi3":1510,"lo4":2653,"hi4":4830},
{"t":21.25,"lo0":560,"hi0":1771,"lo1":324,"hi1":1492,"lo2":60,"hi2":1190,"lo3":494,"hi3":1785,"lo4":2660,"hi4":5382},
{"t":21.75,"lo0":669,"hi0":1877,"lo1":425,"hi1":1416,"lo2":25,"hi2":1460,"lo3":395,"hi3":1895,"lo4":2427,"hi4":4944},
{"t":22.25,"lo0":847,"hi0":2183,"lo1":375,"hi1":1900,"lo2":165,"hi2":1280,"lo3":461,"hi3":2250,"lo4":2614,"hi4":5226},
{"t":22.75,"lo0":746,"hi0":1989,"lo1":401,"hi1":1504,"lo2":200,"hi2":1460,"lo3":428,"hi3":1400,"lo4":2741,"hi4":5058},
{"t":23.25,"lo0":854,"hi0":1845,"lo1":251,"hi1":1348,"lo2":25,"hi2":1145,"lo3":494,"hi3":1510,"lo4":2748,"hi4":5250},
{"t":23.75,"lo0":718,"hi0":1801,"lo1":402,"hi1":1591,"lo2":235,"hi2":1145,"lo3":527,"hi3":1840,"lo4":2635,"hi4":5622},
{"t":24.25,"lo0":581,"hi0":1907,"lo1":377,"hi1":1515,"lo2":340,"hi2":1145,"lo3":527,"hi3":1840,"lo4":2882,"hi4":5184},
{"t":24.75,"lo0":830,"hi0":2163,"lo1":453,"hi1":1359,"lo2":235,"hi2":1415,"lo3":329,"hi3":1620,"lo4":2889,"hi4":4836},
{"t":25.25,"lo0":693,"hi0":1819,"lo1":303,"hi1":1283,"lo2":60,"hi2":1280,"lo3":560,"hi3":1455,"lo4":2476,"hi4":5568},
{"t":25.75,"lo0":732,"hi0":1875,"lo1":304,"hi1":1607,"lo2":305,"hi2":1325,"lo3":362,"hi3":1895,"lo4":2783,"hi4":4950},
{"t":26.25,"lo0":805,"hi0":2281,"lo1":354,"hi1":1650,"lo2":25,"hi2":1100,"lo3":329,"hi3":1785,"lo4":2550,"hi4":5052},
{"t":26.75,"lo0":739,"hi0":1987,"lo1":280,"hi1":1654,"lo2":130,"hi2":1190,"lo3":263,"hi3":1455,"lo4":2497,"hi4":5604},
{"t":27.25,"lo0":637,"hi0":2650,"lo1":455,"hi1":1618,"lo2":305,"hi2":1460,"lo3":296,"hi3":1730,"lo4":2744,"hi4":5256},
{"t":27.75,"lo0":606,"hi0":2099,"lo1":231,"hi1":1542,"lo2":200,"hi2":1280,"lo3":494,"hi3":1895,"lo4":2811,"hi4":5628},
{"t":28.25,"lo0":679,"hi0":1955,"lo1":381,"hi1":1386,"lo2":305,"hi2":1145,"lo3":527,"hi3":1565,"lo4":2518,"hi4":5010},
{"t":28.75,"lo0":613,"hi0":1911,"lo1":257,"hi1":1629,"lo2":165,"hi2":1100,"lo3":428,"hi3":1895,"lo4":2885,"hi4":5022},
{"t":29.25,"lo0":826,"hi0":1917,"lo1":357,"hi1":1313,"lo2":25,"hi2":1190,"lo3":296,"hi3":1895,"lo4":3072,"hi4":5034},
{"t":29.75,"lo0":865,"hi0":1873,"lo1":358,"hi1":1437,"lo2":270,"hi2":1415,"lo3":560,"hi3":1565,"lo4":2899,"hi4":5586},
{"t":30.25,"lo0":833,"hi0":2129,"lo1":308,"hi1":1481,"lo2":130,"hi2":1100,"lo3":296,"hi3":1785,"lo4":2606,"hi4":5328},
{"t":30.75,"lo0":662,"hi0":2135,"lo1":459,"hi1":1645,"lo2":165,"hi2":1145,"lo3":362,"hi3":1675,"lo4":3033,"hi4":5430},
{"t":31.25,"lo0":805,"hi0":2141,"lo1":234,"hi1":1408,"lo2":235,"hi2":1560,"lo3":395,"hi3":1455,"lo4":2560,"hi4":4992},
{"t":31.75,"lo0":739,"hi0":2347,"lo1":335,"hi1":1532,"lo2":165,"hi2":1235,"lo3":527,"hi3":1400,"lo4":2747,"hi4":5184},
{"t":32.25,"lo0":882,"hi0":2203,"lo1":335,"hi1":1456,"lo2":60,"hi2":1460,"lo3":461,"hi3":1675,"lo4":3054,"hi4":5736},
{"t":32.75,"lo0":746,"hi0":2109,"lo1":461,"hi1":1500,"lo2":25,"hi2":1325,"lo3":494,"hi3":1840,"lo4":2881,"hi4":5388},
{"t":33.25,"lo0":819,"hi0":2115,"lo1":336,"hi1":1424,"lo2":95,"hi2":1190,"lo3":296,"hi3":1510,"lo4":3068,"hi4":5130},
{"t":33.75,"lo0":858,"hi0":2221,"lo1":262,"hi1":1387,"lo2":25,"hi2":1145,"lo3":494,"hi3":1400,"lo4":2835,"hi4":5052},
{"t":34.25,"lo0":861,"hi0":2027,"lo1":412,"hi1":1391,"lo2":235,"hi2":1145,"lo3":461,"hi3":1895,"lo4":2602,"hi4":5244},
{"t":34.75,"lo0":690,"hi0":2033,"lo1":413,"hi1":1635,"lo2":270,"hi2":1100,"lo3":560,"hi3":1785,"lo4":3029,"hi4":5706},
{"t":35.25,"lo0":868,"hi0":2389,"lo1":388,"hi1":1359,"lo2":235,"hi2":1325,"lo3":362,"hi3":1620,"lo4":2796,"hi4":5088},
{"t":35.75,"lo0":907,"hi0":2145,"lo1":439,"hi1":1603,"lo2":60,"hi2":1325,"lo3":362,"hi3":1895,"lo4":2863,"hi4":5190},
{"t":36.25,"lo0":735,"hi0":2351,"lo1":289,"hi1":1646,"lo2":200,"hi2":1325,"lo3":428,"hi3":1620,"lo4":2990,"hi4":5922},
{"t":36.75,"lo0":669,"hi0":2800,"lo1":415,"hi1":1730,"lo2":130,"hi2":1505,"lo3":329,"hi3":1620,"lo4":2877,"hi4":5394},
{"t":37.25,"lo0":812,"hi0":2213,"lo1":340,"hi1":1694,"lo2":270,"hi2":1370,"lo3":560,"hi3":1675,"lo4":2704,"hi4":5856},
{"t":37.75,"lo0":991,"hi0":2169,"lo1":391,"hi1":1458,"lo2":130,"hi2":1280,"lo3":263,"hi3":1895,"lo4":2651,"hi4":5598},
{"t":38.25,"lo0":924,"hi0":2425,"lo1":341,"hi1":1422,"lo2":200,"hi2":1280,"lo3":461,"hi3":1510,"lo4":2778,"hi4":5340},
{"t":38.75,"lo0":718,"hi0":2131,"lo1":242,"hi1":2050,"lo2":235,"hi2":1370,"lo3":296,"hi3":1565,"lo4":2665,"hi4":6700},
{"t":39.25,"lo0":721,"hi0":1987,"lo1":367,"hi1":1709,"lo2":235,"hi2":1190,"lo3":428,"hi3":1400,"lo4":3032,"hi4":5274},
{"t":39.75,"lo0":865,"hi0":2143,"lo1":468,"hi1":1393,"lo2":60,"hi2":1190,"lo3":428,"hi3":1785,"lo4":3099,"hi4":5196},
{"t":40.25,"lo0":973,"hi0":2399,"lo1":268,"hi1":1717,"lo2":235,"hi2":1505,"lo3":362,"hi3":1840,"lo4":3196,"hi4":5658},
{"t":40.75,"lo0":697,"hi0":2055,"lo1":444,"hi1":1641,"lo2":270,"hi2":1280,"lo3":560,"hi3":1455,"lo4":2903,"hi4":5670},
{"t":41.25,"lo0":770,"hi0":2461,"lo1":419,"hi1":1604,"lo2":95,"hi2":1460,"lo3":263,"hi3":1730,"lo4":3150,"hi4":5682},
{"t":41.75,"lo0":984,"hi0":2317,"lo1":270,"hi1":1448,"lo2":25,"hi2":1560,"lo3":395,"hi3":1620,"lo4":3037,"hi4":6600},
{"t":42.25,"lo0":812,"hi0":2073,"lo1":370,"hi1":1532,"lo2":165,"hi2":1325,"lo3":395,"hi3":2200,"lo4":3284,"hi4":5796},
{"t":42.75,"lo0":711,"hi0":2229,"lo1":271,"hi1":1496,"lo2":340,"hi2":1280,"lo3":560,"hi3":1730,"lo4":3051,"hi4":5628},
{"t":43.25,"lo0":924,"hi0":2085,"lo1":446,"hi1":1740,"lo2":270,"hi2":1505,"lo3":395,"hi3":1510,"lo4":3178,"hi4":5640},
{"t":43.75,"lo0":718,"hi0":2291,"lo1":447,"hi1":1503,"lo2":60,"hi2":1235,"lo3":296,"hi3":1840,"lo4":3245,"hi4":5832},
{"t":44.25,"lo0":721,"hi0":2497,"lo1":447,"hi1":1547,"lo2":60,"hi2":1100,"lo3":494,"hi3":1730,"lo4":3252,"hi4":6400},
{"t":44.75,"lo0":935,"hi0":2153,"lo1":298,"hi1":1431,"lo2":200,"hi2":1235,"lo3":494,"hi3":1510,"lo4":2959,"hi4":5496},
{"t":45.25,"lo0":798,"hi0":2359,"lo1":373,"hi1":1675,"lo2":305,"hi2":1460,"lo3":461,"hi3":1400,"lo4":3266,"hi4":6138},
{"t":45.75,"lo0":872,"hi0":2315,"lo1":349,"hi1":1679,"lo2":25,"hi2":1145,"lo3":527,"hi3":1840,"lo4":3333,"hi4":5700},
{"t":46.25,"lo0":1015,"hi0":2221,"lo1":474,"hi1":1602,"lo2":95,"hi2":1505,"lo3":329,"hi3":1895,"lo4":3040,"hi4":6072},
{"t":46.75,"lo0":1054,"hi0":2327,"lo1":425,"hi1":1726,"lo2":305,"hi2":1370,"lo3":494,"hi3":1895,"lo4":2927,"hi4":6174},
{"t":47.25,"lo0":882,"hi0":2483,"lo1":275,"hi1":1450,"lo2":130,"hi2":1145,"lo3":395,"hi3":1840,"lo4":3174,"hi4":6800},
{"t":47.75,"lo0":781,"hi0":2539,"lo1":376,"hi1":1814,"lo2":25,"hi2":1280,"lo3":461,"hi3":1730,"lo4":3481,"hi4":5748},
{"t":48.25,"lo0":994,"hi0":2445,"lo1":451,"hi1":1578,"lo2":235,"hi2":1145,"lo3":395,"hi3":1510,"lo4":3368,"hi4":6210},
{"t":48.75,"lo0":1068,"hi0":2950,"lo1":477,"hi1":1781,"lo2":25,"hi2":1325,"lo3":263,"hi3":1840,"lo4":3015,"hi4":5682},
{"t":49.25,"lo0":756,"hi0":2257,"lo1":427,"hi1":1625,"lo2":25,"hi2":1505,"lo3":428,"hi3":1400,"lo4":3022,"hi4":5424},
{"t":49.75,"lo0":830,"hi0":2213,"lo1":303,"hi1":2050,"lo2":235,"hi2":1190,"lo3":560,"hi3":1565,"lo4":3269,"hi4":5706},
{"t":50.25,"lo0":938,"hi0":2269,"lo1":478,"hi1":1713,"lo2":95,"hi2":1370,"lo3":296,"hi3":1620,"lo4":3456,"hi4":6168},
{"t":50.75,"lo0":767,"hi0":2525,"lo1":454,"hi1":1477,"lo2":165,"hi2":1325,"lo3":527,"hi3":1840,"lo4":2983,"hi4":5550},
{"t":51.25,"lo0":945,"hi0":2331,"lo1":254,"hi1":1840,"lo2":305,"hi2":1235,"lo3":494,"hi3":1510,"lo4":3110,"hi4":6282},
{"t":51.75,"lo0":949,"hi0":2437,"lo1":405,"hi1":1684,"lo2":340,"hi2":1325,"lo3":296,"hi3":1675,"lo4":3477,"hi4":6024},
{"t":52.25,"lo0":917,"hi0":2243,"lo1":280,"hi1":1688,"lo2":165,"hi2":1460,"lo3":428,"hi3":1565,"lo4":3184,"hi4":5586},
{"t":52.75,"lo0":781,"hi0":2449,"lo1":356,"hi1":1492,"lo2":60,"hi2":1560,"lo3":296,"hi3":1620,"lo4":3011,"hi4":5868},
{"t":53.25,"lo0":1029,"hi0":2355,"lo1":431,"hi1":1696,"lo2":270,"hi2":1415,"lo3":527,"hi3":1510,"lo4":3378,"hi4":5610},
{"t":53.75,"lo0":998,"hi0":2311,"lo1":457,"hi1":1819,"lo2":340,"hi2":1505,"lo3":527,"hi3":1455,"lo4":3025,"hi4":5982},
{"t":54.25,"lo0":1106,"hi0":2317,"lo1":457,"hi1":1583,"lo2":25,"hi2":1235,"lo3":527,"hi3":1455,"lo4":3032,"hi4":6354},
{"t":54.75,"lo0":865,"hi0":2573,"lo1":483,"hi1":1587,"lo2":95,"hi2":1190,"lo3":329,"hi3":1785,"lo4":3399,"hi4":5736},
{"t":55.25,"lo0":833,"hi0":2329,"lo1":358,"hi1":1631,"lo2":200,"hi2":1235,"lo3":428,"hi3":1400,"lo4":3166,"hi4":6108},
{"t":55.75,"lo0":1082,"hi0":2285,"lo1":359,"hi1":1555,"lo2":25,"hi2":1460,"lo3":395,"hi3":1730,"lo4":3293,"hi4":6030}
]},
"spacing": 0,
"vconcat": [
{
 "width": 604, "height": 89,
 "title": {"text": "ae801020010_20060820155738_wam1_bst_4band_nobin.qdp", "anchor": "start", "frame": "group", "font": "DejaVu Sans", "fontSize": 14, "fontWeight": "normal", "color": "#000", "baseline": "alphabetic", "offset": -7},
 "layer": [
  {"data": {"name": "lc"}, "mark": {"type": "area", "color": "#ff0000", "stroke": "#ff0000", "clip": true},
   "encoding": {
    "x": {"field": "t", "type": "quantitative", "scale": {"domain": [-9.41, 57.5], "nice": false, "zero": false},
      "axis": {"orient": "bottom", "values": [-8,-6,-4,-2,0,2,4,6,8,10,12,14,16,18,20,22,24,26,28,30,32,34,36,38,40,42,44,46,48,50,52,54,56], "labels": false, "title": null, "tickSize": {"condition": {"test": "datum.value % 10 === 0", "value": -6}, "value": -3}}},
    "y": {"field": "lo0", "type": "quantitative", "scale": {"domain": [203, 3121], "nice": false, "zero": false},
      "axis": {"orient": "left", "values": [400,600,800,1000,1200,1400,1600,1800,2000,2200,2400,2600,2800,3000], "title": null, "labelPadding": 16, "labelExpr": "datum.value % 1000 === 0 ? datum.label : ''", "tickSize": {"condition": {"test": "datum.value % 1000 === 0", "value": -6}, "value": -3}}},
    "y2": {"field": "hi0"}
   }},
  {"data": {"values": [{"band": "TH0"}]}, "mark": {"type": "text", "align": "right", "baseline": "top", "font": "DejaVu Sans", "fontSize": 14, "dy": 3, "color": "#000"},
   "encoding": {
    "text": {"field": "band"},
    "x": {"datum": 56.6, "type": "quantitative", "scale": {"domain": [-9.41, 57.5], "nice": false, "zero": false},
      "axis": {"orient": "top", "values": [-8,-6,-4,-2,0,2,4,6,8,10,12,14,16,18,20,22,24,26,28,30,32,34,36,38,40,42,44,46,48,50,52,54,56], "labels": false, "title": null, "tickSize": {"condition": {"test": "datum.value % 10 === 0", "value": -6}, "value": -3}}},
    "y": {"datum": 3121, "type": "quantitative", "scale": {"domain": [203, 3121], "nice": false, "zero": false},
      "axis": {"orient": "right", "values": [400,600,800,1000,1200,1400,1600,1800,2000,2200,2400,2600,2800,3000], "labels": false, "title": null, "tickSize": {"condition": {"test": "datum.value % 1000 === 0", "value": -6}, "value": -3}}}
   }}
 ],
 "resolve": {"axis": {"x": "independent", "y": "independent"}}
},
{
 "width": 604, "height": 90,
 "layer": [
  {"data": {"name": "lc"}, "mark": {"type": "area", "color": "#00ff00", "stroke": "#00ff00", "clip": true},
   "encoding": {
    "x": {"field": "t", "type": "quantitative", "scale": {"domain": [-9.41, 57.5], "nice": false, "zero": false},
      "axis": {"orient": "bottom", "values": [-8,-6,-4,-2,0,2,4,6,8,10,12,14,16,18,20,22,24,26,28,30,32,34,36,38,40,42,44,46,48,50,52,54,56], "labels": false, "title": null, "tickSize": {"condition": {"test": "datum.value % 10 === 0", "value": -6}, "value": -3}}},
    "y": {"field": "lo1", "type": "quantitative", "scale": {"domain": [146, 2140], "nice": false, "zero": false},
      "axis": {"orient": "left", "values": [200,300,400,500,600,700,800,900,1000,1100,1200,1300,1400,1500,1600,1700,1800,1900,2000,2100], "title": null, "labelPadding": 16, "labelExpr": "datum.value % 500 === 0 ? datum.label : ''", "tickSize": {"condition": {"test": "datum.value % 500 === 0", "value": -6}, "value": -3}}},
    "y2": {"field": "hi1"}
   }},
  {"data": {"values": [{"band": "TH1"}]}, "mark": {"type": "text", "align": "right", "baseline": "top", "font": "DejaVu Sans", "fontSize": 14, "dy": 3, "color": "#000"},
   "encoding": {
    "text": {"field": "band"},
    "x": {"datum": 56.6, "type": "quantitative", "scale": {"domain": [-9.41, 57.5], "nice": false, "zero": false},
      "axis": {"orient": "top", "values": [-8,-6,-4,-2,0,2,4,6,8,10,12,14,16,18,20,22,24,26,28,30,32,34,36,38,40,42,44,46,48,50,52,54,56], "labels": false, "title": null, "tickSize": {"condition": {"test": "datum.value % 10 === 0", "value": -6}, "value": -3}}},
    "y": {"datum": 2140, "type": "quantitative", "scale": {"domain": [146, 2140], "nice": false, "zero": false},
      "axis": {"orient": "right", "values": [200,300,400,500,600,700,800,900,1000,1100,1200,1300,1400,1500,1600,1700,1800,1900,2000,2100], "labels": false, "title": null, "tickSize": {"condition": {"test": "datum.value % 500 === 0", "value": -6}, "value": -3}}}
   }}
 ],
 "resolve": {"axis": {"x": "independent", "y": "independent"}}
},
{
 "width": 604, "height": 88,
 "layer": [
  {"data": {"name": "lc"}, "mark": {"type": "area", "color": "#0000ff", "stroke": "#0000ff", "clip": true},
   "encoding": {
    "x": {"field": "t", "type": "quantitative", "scale": {"domain": [-9.41, 57.5], "nice": false, "zero": false},
      "axis": {"orient": "bottom", "values": [-8,-6,-4,-2,0,2,4,6,8,10,12,14,16,18,20,22,24,26,28,30,32,34,36,38,40,42,44,46,48,50,52,54,56], "labels": false, "title": null, "tickSize": {"condition": {"test": "datum.value % 10 === 0", "value": -6}, "value": -3}}},
    "y": {"field": "lo2", "type": "quantitative", "scale": {"domain": [-31, 1567], "nice": false, "zero": false},
      "axis": {"orient": "left", "values": [0,100,200,300,400,500,600,700,800,900,1000,1100,1200,1300,1400,1500], "labelPadding": 16, "labelExpr": "datum.value % 500 === 0 ? datum.label : ''", "tickSize": {"condition": {"test": "datum.value % 500 === 0", "value": -6}, "value": -3},
        "title": "Counts/sec", "titleX": -66, "titleY": 53, "titleAngle": -90, "titleAlign": "center", "titleBaseline": "middle"}},
    "y2": {"field": "hi2"}
   }},
  {"data": {"values": [{"band": "TH2"}]}, "mark": {"type": "text", "align": "right", "baseline": "top", "font": "DejaVu Sans", "fontSize": 14, "dy": 3, "color": "#000"},
   "encoding": {
    "text": {"field": "band"},
    "x": {"datum": 56.6, "type": "quantitative", "scale": {"domain": [-9.41, 57.5], "nice": false, "zero": false},
      "axis": {"orient": "top", "values": [-8,-6,-4,-2,0,2,4,6,8,10,12,14,16,18,20,22,24,26,28,30,32,34,36,38,40,42,44,46,48,50,52,54,56], "labels": false, "title": null, "tickSize": {"condition": {"test": "datum.value % 10 === 0", "value": -6}, "value": -3}}},
    "y": {"datum": 1567, "type": "quantitative", "scale": {"domain": [-31, 1567], "nice": false, "zero": false},
      "axis": {"orient": "right", "values": [0,100,200,300,400,500,600,700,800,900,1000,1100,1200,1300,1400,1500], "labels": false, "title": null, "tickSize": {"condition": {"test": "datum.value % 500 === 0", "value": -6}, "value": -3}}}
   }}
 ],
 "resolve": {"axis": {"x": "independent", "y": "independent"}}
},
{
 "width": 604, "height": 92,
 "layer": [
  {"data": {"name": "lc"}, "mark": {"type": "area", "color": "#00ffff", "stroke": "#00ffff", "clip": true},
   "encoding": {
    "x": {"field": "t", "type": "quantitative", "scale": {"domain": [-9.41, 57.5], "nice": false, "zero": false},
      "axis": {"orient": "bottom", "values": [-8,-6,-4,-2,0,2,4,6,8,10,12,14,16,18,20,22,24,26,28,30,32,34,36,38,40,42,44,46,48,50,52,54,56], "labels": false, "title": null, "tickSize": {"condition": {"test": "datum.value % 10 === 0", "value": -6}, "value": -3}}},
    "y": {"field": "lo3", "type": "quantitative", "scale": {"domain": [208, 2445], "nice": false, "zero": false},
      "axis": {"orient": "left", "values": [300,400,500,600,700,800,900,1000,1100,1200,1300,1400,1500,1600,1700,1800,1900,2000,2100,2200,2300,2400], "title": null, "labelPadding": 16, "labelExpr": "datum.value % 500 === 0 ? datum.label : ''", "tickSize": {"condition": {"test": "datum.value % 500 === 0", "value": -6}, "value": -3}}},
    "y2": {"field": "hi3"}
   }},
  {"data": {"values": [{"band": "TH3"}]}, "mark": {"type": "text", "align": "right", "baseline": "top", "font": "DejaVu Sans", "fontSize": 14, "dy": 3, "color": "#000"},
   "encoding": {
    "text": {"field": "band"},
    "x": {"datum": 56.6, "type": "quantitative", "scale": {"domain": [-9.41, 57.5], "nice": false, "zero": false},
      "axis": {"orient": "top", "values": [-8,-6,-4,-2,0,2,4,6,8,10,12,14,16,18,20,22,24,26,28,30,32,34,36,38,40,42,44,46,48,50,52,54,56], "labels": false, "title": null, "tickSize": {"condition": {"test": "datum.value % 10 === 0", "value": -6}, "value": -3}}},
    "y": {"datum": 2445, "type": "quantitative", "scale": {"domain": [208, 2445], "nice": false, "zero": false},
      "axis": {"orient": "right", "values": [300,400,500,600,700,800,900,1000,1100,1200,1300,1400,1500,1600,1700,1800,1900,2000,2100,2200,2300,2400], "labels": false, "title": null, "tickSize": {"condition": {"test": "datum.value % 500 === 0", "value": -6}, "value": -3}}}
   }}
 ],
 "resolve": {"axis": {"x": "independent", "y": "independent"}}
},
{
 "width": 604, "height": 89,
 "layer": [
  {"data": {"name": "lc"}, "mark": {"type": "area", "color": "#ff00ff", "stroke": "#ff00ff", "clip": true},
   "encoding": {
    "x": {"field": "t", "type": "quantitative", "scale": {"domain": [-9.41, 57.5], "nice": false, "zero": false},
      "axis": {"orient": "bottom", "values": [-8,-6,-4,-2,0,2,4,6,8,10,12,14,16,18,20,22,24,26,28,30,32,34,36,38,40,42,44,46,48,50,52,54,56], "labelPadding": 10, "labelExpr": "datum.value % 10 === 0 ? datum.label : ''", "tickSize": {"condition": {"test": "datum.value % 10 === 0", "value": -6}, "value": -3},
        "title": "Time [sec] 0 = 2006/08/20 15:57:38.709", "titleX": 290, "titleY": 36, "titleAlign": "center", "titleBaseline": "alphabetic", "titleAngle": 0}},
    "y": {"field": "lo4", "type": "quantitative", "scale": {"domain": [1808, 6990], "nice": false, "zero": false},
      "axis": {"orient": "left", "values": [2000,3000,4000,5000,6000], "title": null, "labelPadding": 16, "labelExpr": "datum.value % 2000 === 0 ? datum.label : ''", "tickSize": {"condition": {"test": "datum.value % 2000 === 0", "value": -6}, "value": -3}}},
    "y2": {"field": "hi4"}
   }},
  {"data": {"values": [{"band": "TH0123"}]}, "mark": {"type": "text", "align": "right", "baseline": "top", "font": "DejaVu Sans", "fontSize": 14, "dy": 3, "color": "#000"},
   "encoding": {
    "text": {"field": "band"},
    "x": {"datum": 56.6, "type": "quantitative", "scale": {"domain": [-9.41, 57.5], "nice": false, "zero": false},
      "axis": {"orient": "top", "values": [-8,-6,-4,-2,0,2,4,6,8,10,12,14,16,18,20,22,24,26,28,30,32,34,36,38,40,42,44,46,48,50,52,54,56], "labels": false, "title": null, "tickSize": {"condition": {"test": "datum.value % 10 === 0", "value": -6}, "value": -3}}},
    "y": {"datum": 6990, "type": "quantitative", "scale": {"domain": [1808, 6990], "nice": false, "zero": false},
      "axis": {"orient": "right", "values": [2000,3000,4000,5000,6000], "labels": false, "title": null, "tickSize": {"condition": {"test": "datum.value % 2000 === 0", "value": -6}, "value": -3}}}
   }}
 ],
 "resolve": {"axis": {"x": "independent", "y": "independent"}}
}
]
}
